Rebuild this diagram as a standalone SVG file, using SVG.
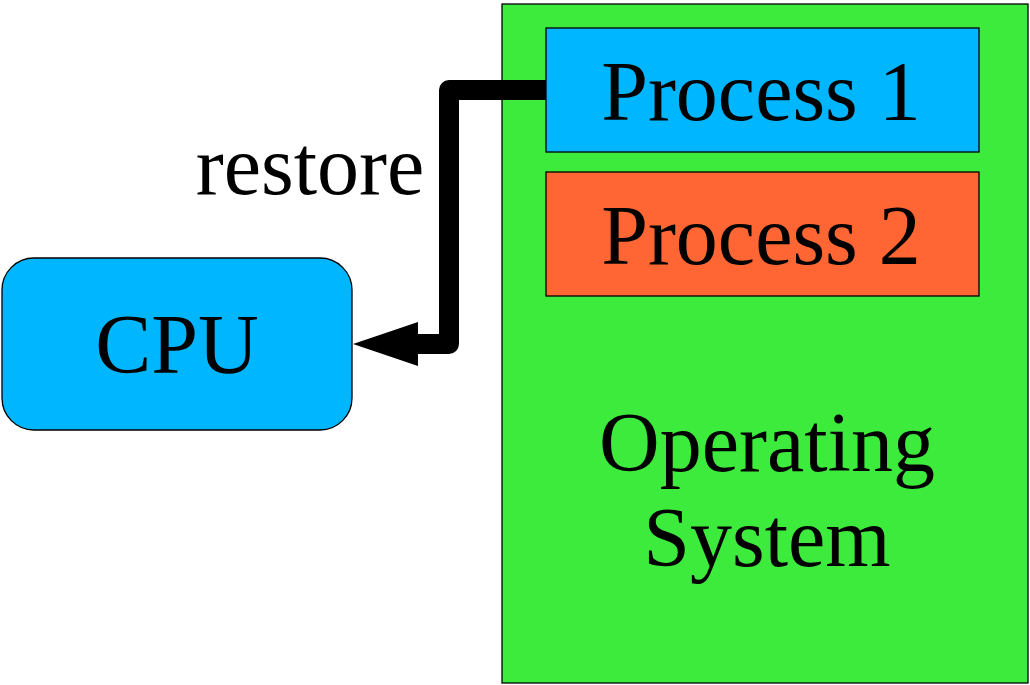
<svg xmlns="http://www.w3.org/2000/svg" width="1030" height="685" viewBox="0 0 1030 685">
<style>
.t{font-family:"Liberation Serif","Times New Roman",serif;font-size:84px;fill:#000;text-anchor:middle}
.box{stroke:#000;stroke-width:1.3}
</style>
<rect width="1030" height="685" fill="#fff"/>
<g id="os"><rect class="box" x="502" y="4" width="526" height="679" fill="#3deb3d"/>
<text class="t" x="767" y="471">Operating</text><text class="t" x="767" y="566">System</text></g>
<g id="p1"><rect class="box" x="546" y="28" width="433" height="124" fill="#00b7ff"/><text class="t" x="761" y="120">Process 1</text></g>
<g id="p2"><rect class="box" x="546" y="172" width="433" height="124" fill="#ff6633"/><text class="t" x="761" y="264">Process 2</text></g>
<g id="cpu"><rect class="box" x="2" y="258" width="350" height="172" rx="32" fill="#00b7ff"/><text class="t" x="177" y="373">CPU</text></g>
<g id="connectors">
<path d="M546 90 H449 V344 H410" fill="none" stroke="#000" stroke-width="20" stroke-linejoin="round"/>
<polygon points="353,344 418,322 418,366" fill="#000"/>
<text class="t" x="310" y="194">restore</text>
</g>
</svg>
